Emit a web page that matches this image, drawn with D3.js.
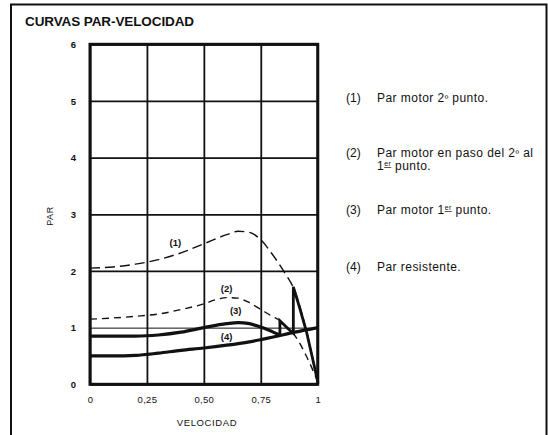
<!DOCTYPE html>
<html><head><meta charset="utf-8">
<script src="https://cdn.jsdelivr.net/npm/d3@7"></script>
<style>
body{margin:0;background:#fff;}
text{font-family:"Liberation Sans",Arial,sans-serif;fill:#111;}
</style></head>
<body><svg id="c" width="548" height="435"></svg>
<script>
// ---- data ----
const xTicks = [0, 0.25, 0.5, 0.75, 1];
const xTickLabels = ["0", "0,25", "0,50", "0,75", "1"];
const yTicks = [0, 1, 2, 3, 4, 5, 6];
const yTickLabels = ["0", "1", "2", "3", "4", "5", "6"];

const velocidad1 = [0, 0.1, 0.2, 0.3, 0.4, 0.5, 0.6, 0.65, 0.7, 0.75, 0.8, 0.85, 0.9, 0.95, 1];
const par1 = [2.05, 2.07, 2.12, 2.2, 2.32, 2.48, 2.64, 2.7, 2.68, 2.55, 2.3, 2.0, 1.64, 0.95, 0.05];

const velocidad2 = [0, 0.1, 0.2, 0.3, 0.4, 0.5, 0.55, 0.6, 0.65, 0.7, 0.75, 0.8, 0.834, 0.85, 0.9, 0.95, 1];
const par2 = [1.15, 1.17, 1.2, 1.24, 1.32, 1.42, 1.49, 1.53, 1.52, 1.44, 1.32, 1.2, 1.12, 1.06, 0.86, 0.5, 0.05];

const velocidad3 = [0, 0.1, 0.2, 0.3, 0.4, 0.5, 0.6, 0.65, 0.7, 0.75, 0.8, 0.834];
const par3 = [0.85, 0.85, 0.85, 0.87, 0.92, 1.0, 1.07, 1.09, 1.07, 1.01, 0.93, 0.87];

// transition path (thick) from curve 3 to curve 2 to curve 1
const velocidadT = [0.834, 0.834, 0.85, 0.87, 0.893, 0.893, 0.92, 0.95, 0.975, 1, 1];
const parT = [0.87, 1.12, 1.06, 0.98, 0.9, 1.72, 1.36, 0.94, 0.5, 0.05, 0];

const velocidad4 = [0, 0.1, 0.2, 0.3, 0.4, 0.5, 0.6, 0.7, 0.8, 0.9, 1];
const par4 = [0.5, 0.5, 0.51, 0.55, 0.6, 0.64, 0.69, 0.75, 0.83, 0.92, 1.0];

const curveLabels = ["(1)", "(2)", "(3)", "(4)"];
const curveLabelX = [0.375, 0.6, 0.64, 0.6];
const curveLabelY = [2.49, 1.68, 1.28, 0.82];

const legendNums = ["(1)", "(2)", "(3)", "(4)"];

// ---- drawing ----
const svg = d3.select("#c");
svg.append("rect").attr("x", 11).attr("y", 4.5).attr("width", 535.5).attr("height", 440)
  .attr("fill", "none").attr("stroke", "#111").attr("stroke-width", 2);

svg.append("text").attr("x", 25).attr("y", 25.5).text("CURVAS PAR-VELOCIDAD")
  .attr("font-weight", "bold").attr("font-size", 13.5).attr("letter-spacing", -0.1);

const pL = 90, pR = 317.7, pT = 44.3, pB = 384.3;
const x = d3.scaleLinear().domain([0, 1]).range([pL, pR]);
const y = d3.scaleLinear().domain([0, 6]).range([pB, pT]);

// grid
const gx = svg.append("g").attr("transform", `translate(0,${pB})`)
  .call(d3.axisBottom(x).tickValues(xTicks).tickSize(-(pB - pT)).tickFormat((d, i) => xTickLabels[i]).tickPadding(10));
gx.select(".domain").remove();
gx.selectAll("line").attr("stroke", "#111").attr("stroke-width", 1.8);
gx.selectAll("text").attr("font-size", 9.5).attr("letter-spacing", 0.3).attr("fill", "#222").attr("dy", "0.9em");

const gy = svg.append("g").attr("transform", `translate(${pL},0)`)
  .call(d3.axisLeft(y).tickValues(yTicks).tickSize(-(pR - pL)).tickFormat((d, i) => yTickLabels[i]).tickPadding(14));
gy.select(".domain").remove();
gy.selectAll("line").attr("stroke", "#111").attr("stroke-width", d => d === 1 ? 1 : 1.8);
gy.selectAll("text").attr("font-size", 9.5).attr("fill", "#222").attr("font-weight", "bold");

// frame of plot
svg.append("rect").attr("x", pL).attr("y", pT).attr("width", pR - pL).attr("height", pB - pT)
  .attr("fill", "none").attr("stroke", "#111").attr("stroke-width", 3);

svg.append("text").attr("x", 207).attr("y", 426).attr("text-anchor", "middle")
  .attr("font-size", 9.5).attr("letter-spacing", 0.6).attr("fill", "#222").text("VELOCIDAD");
svg.append("text").attr("transform", "translate(53,216) rotate(-90)").attr("text-anchor", "middle")
  .attr("font-size", 9).attr("letter-spacing", 0.6).attr("fill", "#222").text("PAR");

const line = d3.line().x(d => x(d[0])).y(d => y(d[1])).curve(d3.curveMonotoneX);
const lineLin = d3.line().x(d => x(d[0])).y(d => y(d[1]));

svg.append("path").attr("d", line(d3.zip(velocidad1, par1))).attr("fill", "none")
  .attr("stroke", "#111").attr("stroke-width", 1.4).attr("stroke-dasharray", "10,5");
svg.append("path").attr("d", line(d3.zip(velocidad2, par2))).attr("fill", "none")
  .attr("stroke", "#111").attr("stroke-width", 1.4).attr("stroke-dasharray", "7,5");
svg.append("path").attr("d", line(d3.zip(velocidad3, par3))).attr("fill", "none")
  .attr("stroke", "#111").attr("stroke-width", 3.2);
svg.append("path").attr("d", lineLin(d3.zip(velocidadT, parT))).attr("fill", "none")
  .attr("stroke", "#111").attr("stroke-width", 2.8).attr("stroke-linejoin", "miter");
svg.append("path").attr("d", line(d3.zip(velocidad4, par4))).attr("fill", "none")
  .attr("stroke", "#111").attr("stroke-width", 3.2);

curveLabels.forEach((t, i) => {
  svg.append("text").attr("x", x(curveLabelX[i])).attr("y", y(curveLabelY[i]))
    .attr("text-anchor", "middle").attr("dominant-baseline", "middle")
    .attr("font-size", 9.5).attr("font-weight", "bold").text(t);
});

// legend
const lg = svg.append("g").attr("font-size", 12);
const lx1 = 346, lx2 = 377;
function leg(num, yy) {
  lg.append("text").attr("x", lx1).attr("y", yy).text(num).attr("font-size", 12);
}
leg(legendNums[0], 102);
let t1 = lg.append("text").attr("x", lx2).attr("y", 102).attr("letter-spacing", 0.45);
t1.append("tspan").text("Par motor 2");
t1.append("tspan").text("º").attr("font-size", 9.5);
t1.append("tspan").text(" punto.");

leg(legendNums[1], 157);
let t2 = lg.append("text").attr("x", lx2).attr("y", 157).attr("letter-spacing", 0.45);
t2.append("tspan").text("Par motor en paso del 2");
t2.append("tspan").text("º").attr("font-size", 9.5);
t2.append("tspan").text(" al");
let t2b = lg.append("text").attr("x", lx2).attr("y", 170).attr("letter-spacing", 0.45);
t2b.append("tspan").text("1");
t2b.append("tspan").text("er").attr("font-size", 7).attr("dy", -4).attr("text-decoration", "underline");
t2b.append("tspan").text(" punto.").attr("dy", 4);

leg(legendNums[2], 214);
let t3 = lg.append("text").attr("x", lx2).attr("y", 214).attr("letter-spacing", 0.45);
t3.append("tspan").text("Par motor 1");
t3.append("tspan").text("er").attr("font-size", 7).attr("dy", -4).attr("text-decoration", "underline");
t3.append("tspan").text(" punto.").attr("dy", 4);

leg(legendNums[3], 271);
lg.append("text").attr("x", lx2).attr("y", 271).attr("letter-spacing", 0.45).text("Par resistente.");
</script></body></html>
